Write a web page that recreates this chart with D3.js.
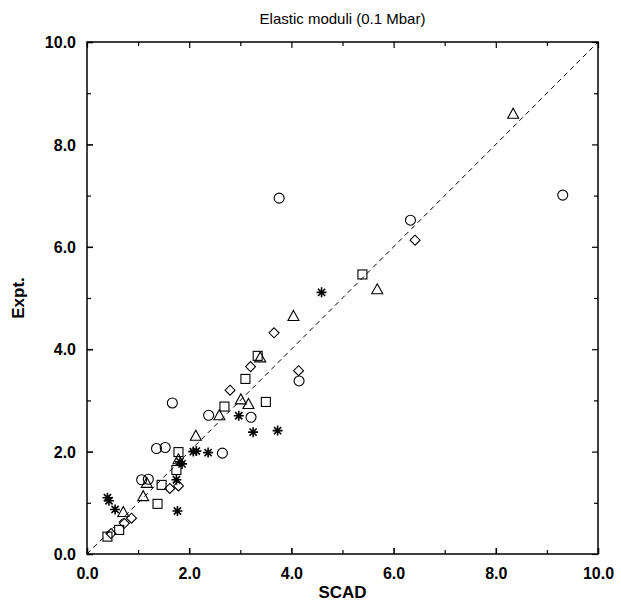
<!DOCTYPE html>
<html><head><meta charset="utf-8">
<script src="https://cdn.jsdelivr.net/npm/d3@7"></script>
<style>body{margin:0;background:#fff}svg{display:block}text{font-family:"Liberation Sans",Arial,sans-serif;fill:#000}</style>
</head><body><svg id="c" width="621" height="603"></svg>
<script>
const title = "Elastic moduli (0.1 Mbar)";
const xLabel = "SCAD";
const yLabel = "Expt.";
const majorTicks = [0,2,4,6,8,10];
const minorTicks = [1,3,5,7,9];
const circles = [[1.07,1.45],[1.20,1.46],[1.36,2.06],[1.53,2.08],[1.67,2.95],[2.38,2.71],[2.65,1.97],[3.21,2.67],[3.76,6.95],[4.15,3.38],[6.33,6.52],[9.31,7.01]];
const squares = [[0.40,0.34],[0.63,0.47],[1.38,0.98],[1.46,1.35],[1.75,1.64],[1.79,1.99],[2.69,2.88],[3.10,3.42],[3.34,3.87],[3.50,2.97],[5.39,5.46]];
const diamonds = [[0.47,0.40],[0.73,0.60],[0.87,0.70],[1.62,1.28],[1.79,1.33],[2.80,3.20],[3.20,3.66],[3.66,4.32],[4.14,3.58],[6.42,6.13]];
const triangles = [[0.71,0.81],[1.10,1.12],[1.17,1.38],[1.79,1.84],[2.13,2.30],[2.59,2.70],[3.01,3.01],[3.16,2.92],[3.39,3.83],[4.04,4.64],[5.68,5.16],[8.34,8.59]];
const asterisks = [[0.40,1.10],[0.43,1.04],[0.55,0.87],[1.75,1.45],[1.77,0.84],[1.82,1.80],[1.86,1.76],[2.08,2.00],[2.14,2.01],[2.37,1.98],[2.97,2.70],[3.25,2.38],[3.73,2.41],[4.59,5.11]];

const L=87,R=598,T=42,B=554;
const x=d3.scaleLinear().domain([0,10]).range([L,R]);
const y=d3.scaleLinear().domain([0,10]).range([B,T]);
const svg=d3.select("#c");

// diagonal
svg.append("line").attr("x1",x(0)).attr("y1",y(0)).attr("x2",x(10)).attr("y2",y(10))
  .attr("stroke","#000").attr("stroke-width",1).attr("stroke-dasharray","5,4");

// axes with inward ticks
const fmt=d3.format(".1f");
function ax(gen,tr,vals,len,lab){
  const g=svg.append("g").attr("transform",tr)
   .call(gen.tickValues(vals).tickSizeInner(-len).tickSizeOuter(0).tickFormat(lab?fmt:""));
  g.select(".domain").remove();
  g.selectAll(".tick line").attr("stroke","#000").attr("stroke-width",lab?1.6:1.2);
  return g;
}
const bx=ax(d3.axisBottom(x),`translate(0,${B})`,majorTicks,6,true);
ax(d3.axisBottom(x),`translate(0,${B})`,minorTicks,4,false);
ax(d3.axisTop(x),`translate(0,${T})`,majorTicks,6,false);
ax(d3.axisTop(x),`translate(0,${T})`,minorTicks,4,false);
const ly=ax(d3.axisLeft(y),`translate(${L},0)`,majorTicks,6,true);
ax(d3.axisLeft(y),`translate(${L},0)`,minorTicks,4,false);
ax(d3.axisRight(y),`translate(${R},0)`,majorTicks,6,false);
ax(d3.axisRight(y),`translate(${R},0)`,minorTicks,4,false);
bx.selectAll("text").attr("font-size",16).attr("font-weight","bold").attr("dy","0").attr("y",25);
ly.selectAll("text").attr("font-size",16).attr("font-weight","bold").attr("x",-11).attr("dy","0.35em");

svg.append("rect").attr("x",L).attr("y",T).attr("width",R-L).attr("height",B-T)
  .attr("fill","none").attr("stroke","#000").attr("stroke-width",1.5);

// markers
const mk=svg.append("g").attr("fill","none").attr("stroke","#000").attr("stroke-width",1.1);
mk.selectAll(".ci").data(circles).join("circle").attr("cx",d=>x(d[0])).attr("cy",d=>y(d[1])).attr("r",5);
mk.selectAll(".sq").data(squares).join("rect").attr("x",d=>x(d[0])-4.5).attr("y",d=>y(d[1])-4.5).attr("width",9).attr("height",9);
mk.selectAll(".di").data(diamonds).join("path").attr("d",d=>{const cx=x(d[0]),cy=y(d[1]),s=5;return `M${cx},${cy-s}L${cx+s},${cy}L${cx},${cy+s}L${cx-s},${cy}Z`;});
mk.selectAll(".tr").data(triangles).join("path").attr("d",d=>{const cx=x(d[0]),cy=y(d[1]);return `M${cx},${cy-6}L${cx+5.5},${cy+4}L${cx-5.5},${cy+4}Z`;});
mk.selectAll(".as").data(asterisks).join("path").attr("stroke-width",1.6).attr("d",d=>{const cx=x(d[0]),cy=y(d[1]),s=5;let p=`M${cx-s},${cy}L${cx+s},${cy}M${cx},${cy-s}L${cx},${cy+s}`;const q=s*0.72;p+=`M${cx-q},${cy-q}L${cx+q},${cy+q}M${cx-q},${cy+q}L${cx+q},${cy-q}`;return p;});

svg.append("text").attr("x",(L+R)/2).attr("y",24).attr("text-anchor","middle").attr("font-size",15).text(title);
svg.append("text").attr("x",(L+R)/2).attr("y",598).attr("text-anchor","middle").attr("font-size",17).attr("font-weight","bold").text(xLabel);
svg.append("text").attr("transform",`translate(24,${(T+B)/2}) rotate(-90)`).attr("text-anchor","middle").attr("font-size",17).attr("font-weight","bold").text(yLabel);
</script></body></html>
